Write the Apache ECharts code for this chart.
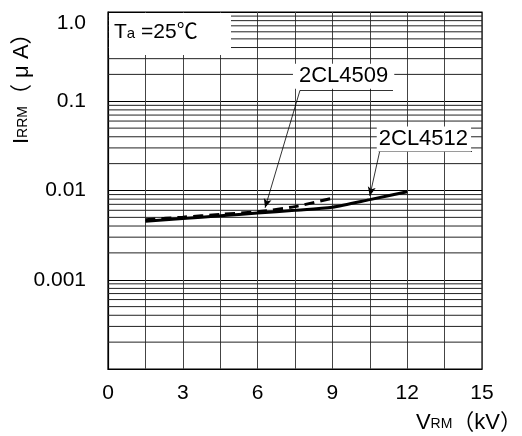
<!DOCTYPE html>
<html><head><meta charset="utf-8">
<script src="https://cdn.jsdelivr.net/npm/echarts@6/dist/echarts.min.js"></script>
<style>html,body{margin:0;padding:0;background:#fff}#c{width:522px;height:436px}</style>
</head><body><div id="c"></div>
<script>
// ---- data ----
const voltage4512 = [1.5, 3, 4.5, 6, 7.5, 9, 10.5, 12];
const current4512 = [0.00452, 0.00485, 0.0052, 0.0056, 0.006, 0.0065, 0.0079, 0.0097];
const voltage4509 = [1.5, 3, 4.5, 6, 7.5, 9];
const current4509 = [0.0047, 0.00503, 0.0054, 0.00578, 0.0066, 0.0082];
const xTickLabels = [0, 3, 6, 9, 12, 15];
const yTickLabels = {1: '1.0', 0.1: '0.1', 0.01: '0.01', 0.001: '0.001'};
const decades = [0.0001, 0.001, 0.01, 0.1];
const mantissas = [2, 3, 4, 5, 6, 7, 8, 9];

const FONT = 'Liberation Sans, Arial, Noto Sans CJK SC, sans-serif';
const minorLevels = [];
decades.forEach(d => mantissas.forEach(m => minorLevels.push(+(d * m).toPrecision(3))));

const pair = (xs, ys) => xs.map((x, i) => [x, ys[i]]);

const chart = echarts.init(document.getElementById('c'), null, {renderer: 'canvas'});
const option = {
  animation: false,
  backgroundColor: '#fff',
  grid: {left: 108, right: 40, top: 12, bottom: 67, show: true, borderColor: '#000', borderWidth: 1.2, backgroundColor: 'transparent'},
  xAxis: {
    type: 'value', min: 0, max: 15, interval: 1.5,
    axisLine: {show: true, lineStyle: {color: '#000', width: 1.2}},
    axisTick: {show: false},
    splitLine: {show: true, lineStyle: {color: '#444', width: 1}},
    axisLabel: {
      color: '#000', fontSize: 21, fontFamily: FONT, margin: 14,
      formatter: v => { const hit = xTickLabels.find(t => Math.abs(t - v) < 1e-6); return hit === undefined ? '' : String(hit); }
    }
  },
  yAxis: {
    type: 'log', logBase: 10, min: 0.0001, max: 1,
    axisLine: {show: true, lineStyle: {color: '#000', width: 1.2}},
    axisTick: {show: false},
    splitLine: {show: true, lineStyle: {color: '#000', width: 1.2}},
    axisLabel: {
      color: '#000', fontSize: 21, fontFamily: FONT, margin: 22,
      formatter: v => {
        const key = Object.keys(yTickLabels).find(k => Math.abs(Math.log10(+k) - Math.log10(v)) < 1e-6);
        if (key === undefined) return '';
        return +key === 1 ? '{t|' + yTickLabels[key] + '}' : yTickLabels[key];
      },
      rich: {t: {fontSize: 21, fontFamily: FONT, color: '#000', padding: [22, 0, 0, 0]}}
    }
  },
  graphic: [
    {
      type: 'text', x: 11, y: 144, rotation: Math.PI / 2, z: 100,
      style: {
        text: '{b|I}{s|RRM}{b|（ μ A）}',
        rich: {
          b: {fontSize: 22, fontFamily: FONT, fill: '#000', padding: [0, 0, 3, 0]},
          s: {fontSize: 14, fontFamily: FONT, fill: '#000'}
        },
        verticalAlign: 'top', align: 'left'
      }
    },
    {
      type: 'text', right: 0, top: 412, z: 100,
      style: {
        text: '{b|V}{s|RM}{b|（kV）}',
        rich: {
          b: {fontSize: 22, fontFamily: FONT, fill: '#000', padding: [0, 0, 3, 0]},
          s: {fontSize: 14, fontFamily: FONT, fill: '#000'}
        }
      }
    }
  ],
  series: [
    {
      name: 'grid-minor', type: 'custom', silent: true, z: 1,
      data: minorLevels.map(v => [0, v]),
      encode: {x: 0, y: 1},
      renderItem: (params, api) => {
        const y = api.coord([0, api.value(1)])[1];
        const cs = params.coordSys;
        return {type: 'line', shape: {x1: cs.x, y1: y, x2: cs.x + cs.width, y2: y}, style: {stroke: '#222', lineWidth: 1}};
      }
    },
    {
      name: '2CL4512', type: 'line', data: pair(voltage4512, current4512),
      smooth: 0.25, showSymbol: false, z: 5,
      lineStyle: {color: '#000', width: 3, type: 'solid'},
      markLine: {
        silent: true, symbol: ['none', 'arrow'], symbolSize: [6, 9], label: {show: false},
        lineStyle: {type: 'solid', color: '#000', width: 0.8},
        data: [
          [{coord: [10.9, 0.0277]}, {coord: [10.5, 0.0087]}],
          [{coord: [10.85, 0.0277], symbol: 'none'}, {coord: [14.6, 0.0277], symbol: 'none'}]
        ]
      },
      markPoint: {
        silent: true, symbol: 'rect', symbolSize: 0,
        data: [
          {coord: [12.67, 0.0377], label: {show: true, formatter: '2CL4512', fontSize: 22, fontFamily: FONT, color: '#000', backgroundColor: '#fff', padding: [2, 3, 1, 2], position: 'inside'}},
          {coord: [0, 1], label: {
            show: true, position: [1, 1], align: 'left', verticalAlign: 'top',
            backgroundColor: '#fff', width: 117, height: 42, padding: [0, 0, 0, 5],
            formatter: '{T|T}{a|a}{n| =25℃}',
            rich: {
              T: {fontSize: 21, fontFamily: FONT, color: '#000', padding: [0, 0, 4, 0], lineHeight: 42},
              a: {fontSize: 15, fontFamily: FONT, color: '#000', lineHeight: 42},
              n: {fontSize: 21, fontFamily: FONT, color: '#000', padding: [0, 0, 4, 0], lineHeight: 42}
            }
          }}
        ]
      }
    },
    {
      name: '2CL4509', type: 'line', data: pair(voltage4509, current4509),
      smooth: 0.25, showSymbol: false, z: 6,
      lineStyle: {color: '#000', width: 3, type: [10, 6]},
      markLine: {
        silent: true, symbol: ['none', 'arrow'], symbolSize: [6, 9], label: {show: false},
        lineStyle: {type: 'solid', color: '#000', width: 0.8},
        data: [
          [{coord: [7.7, 0.1326]}, {coord: [6.3, 0.0064]}],
          [{coord: [7.7, 0.1326], symbol: 'none'}, {coord: [11.43, 0.1326], symbol: 'none'}]
        ]
      },
      markPoint: {
        silent: true, symbol: 'rect', symbolSize: 0,
        data: [
          {coord: [9.45, 0.19], label: {show: true, formatter: '2CL4509', fontSize: 22, fontFamily: FONT, color: '#000', backgroundColor: '#fff', padding: [2, 6, 1, 6], position: 'inside'}}
        ]
      }
    }
  ]
};
chart.setOption(option);
</script>
</body></html>
